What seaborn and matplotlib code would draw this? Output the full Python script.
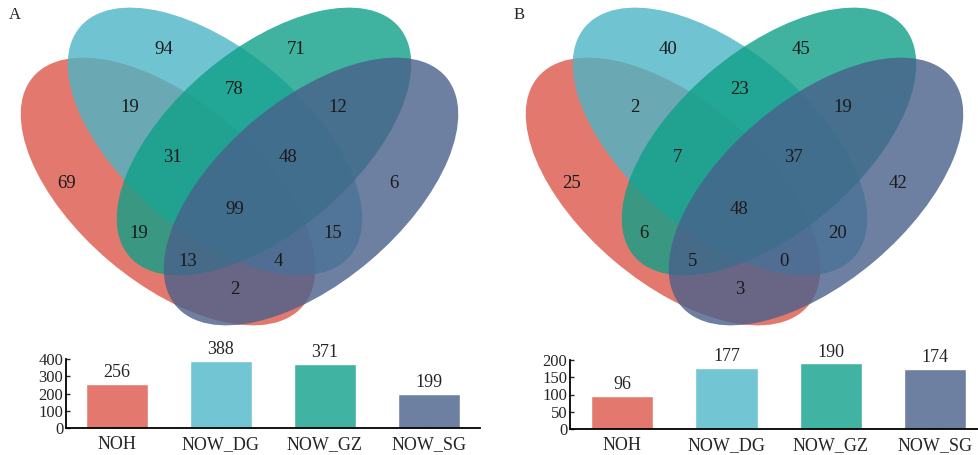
"""
Diagrama de Venn de 4 conjuntos (A y B) con barras de totales por grupo
"""

import numpy as np
import matplotlib
matplotlib.use('Agg')
import matplotlib.pyplot as plt
from matplotlib.patches import Ellipse
import seaborn as sns

# Datos
grupos = ['NOH', 'NOW_DG', 'NOW_GZ', 'NOW_SG']
totales_a = [256, 388, 371, 199]
totales_b = [96, 177, 190, 174]

# regiones del Venn (A=NOH, B=NOW_DG, C=NOW_GZ, D=NOW_SG)
regiones = ['A', 'B', 'C', 'D', 'AB', 'BC', 'CD', 'AC', 'BD', 'AD',
            'ABC', 'BCD', 'ACD', 'ABD', 'ABCD']
venn_a = [69, 94, 71, 6, 19, 78, 12, 19, 15, 2, 31, 48, 13, 4, 99]
venn_b = [25, 40, 45, 42, 2, 23, 19, 6, 20, 3, 7, 37, 5, 0, 48]

# colores de las barras y de las elipses (base para alpha 0.8)
colores = ['#E3796E', '#72C5D2', '#41B3A2', '#6E80A2']
colores_elipse = ['#DC584A', '#4CB6C7', '#0F9F88', '#4A608B']

# Posicion de cada etiqueta relativa al eje de simetria del panel (px)
pos_etiquetas = {
    'A': (-173, 184), 'B': (-76, 50), 'C': (57, 50), 'D': (154, 184),
    'AB': (-110, 107), 'BC': (-5, 90), 'CD': (98, 108), 'AC': (-101, 233),
    'BD': (93, 233), 'AD': (-5, 290), 'ABC': (-67, 158), 'BCD': (49, 158),
    'ACD': (-52, 261), 'ABD': (39, 261), 'ABCD': (-5, 209),
}

sns.set_style('ticks')
plt.rcParams['font.family'] = ['Liberation Serif', 'DejaVu Serif']

fig = plt.figure(figsize=(9.79, 4.55), dpi=100)

# Eje de fondo en pixeles para dibujar las elipses
ax_v = fig.add_axes([0, 0, 1, 1])
ax_v.set_xlim(0, 979)
ax_v.set_ylim(455, 0)
ax_v.axis('off')

# geometria de elipses: desplazamiento respecto al eje, semi-ejes, angulo
semi_a, semi_b, ang = 177, 91, 40.3
desplaz = [(-71.5, 191.5, ang), (-24.5, 141.5, ang),
           (24.5, 141.5, -ang), (71.5, 191.5, -ang)]


def dibujar_venn(x0, valores, letra):
    for (dx, cy, an), col in zip(desplaz, colores_elipse):
        e = Ellipse((x0 + dx, cy), 2 * semi_a, 2 * semi_b, angle=an,
                    facecolor=col, edgecolor='none', alpha=0.8)
        ax_v.add_patch(e)
    for reg, val in zip(regiones, valores):
        px, py = pos_etiquetas[reg]
        ax_v.text(x0 + px, py, str(val), ha='center', va='center',
                  fontsize=13.5, color='#1a1a1a')
    ax_v.text(x0 - 231, 15, letra, ha='left', va='center', fontsize=12)


dibujar_venn(239.5, venn_a, 'A')
dibujar_venn(744.5, venn_b, 'B')


def dibujar_barras(rect, totales, ymax, yticks, xlim):
    ax = fig.add_axes(rect)
    sns.barplot(x=grupos, y=totales, hue=grupos, palette=colores,
                legend=False, ax=ax, width=0.6, saturation=1)
    for cont in ax.containers:
        ax.bar_label(cont, padding=2, fontsize=13)
    ax.set_ylim(0, ymax)
    ax.set_xlim(*xlim)
    ax.set_yticks(yticks)
    ax.set_xlabel('')
    ax.set_ylabel('')
    ax.patch.set_alpha(0)
    sns.despine(ax=ax)
    for s in ['left', 'bottom']:
        ax.spines[s].set_linewidth(1.3)
        ax.spines[s].set_color('black')
    ax.tick_params(axis='x', direction='in', length=3.5, width=1,
                   labelsize=13, pad=6)
    ax.tick_params(axis='y', direction='in', length=3, width=1,
                   labelsize=12, pad=2)
    return ax


dibujar_barras([66 / 979, 27 / 455, 414 / 979, 69 / 455], totales_a,
               400, [0, 100, 200, 300, 400], (-0.49, 3.49))
dibujar_barras([570 / 979, 26 / 455, 409 / 979, 69 / 455], totales_b,
               200, [0, 50, 100, 150, 200], (-0.5, 3.42))

plt.savefig('out.png', dpi=100)
print("Grafico guardado: out.png")
